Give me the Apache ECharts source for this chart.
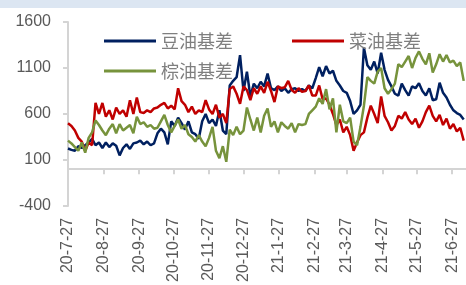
<!DOCTYPE html>
<html>
<head>
<meta charset="utf-8">
<script src="https://cdn.jsdelivr.net/npm/echarts@6/dist/echarts.min.js"></script>
<style>
html, body { margin: 0; padding: 0; background: #fff; }
#chart { width: 466px; height: 285px; }
</style>
</head>
<body>
<div id="chart"></div>
<script>
// 刻度标签（每月27日）
var tickLabels = ['20-7-27', '20-8-27', '20-9-27', '20-10-27', '20-11-27', '20-12-27',
    '21-1-27', '21-2-27', '21-3-27', '21-4-27', '21-5-27', '21-6-27'];

// 数据从 2020-07-27 起，每3天一个点
var startDate = '2020-07-27';
var stepDays = 3;

// 豆油基差
var soyBasis = [225, 210, 200, 250, 230, 260, 290, 330, 260, 290,
    230, 290, 240, 280, 255, 150, 230, 270, 220, 280,
    290, 310, 270, 300, 260, 280, 390, 440, 400, 270,
    520, 470, 560, 500, 430, 520, 400, 380, 330, 520,
    600, 500, 540, 470, 640, 420, 380, 910, 960, 1000,
    1240, 850, 1060, 790, 930, 880, 950, 900, 1040, 880,
    860, 900, 850, 880, 830, 870, 880, 850, 870, 850,
    910, 880, 990, 1110, 1010, 1120, 1040, 1070, 960, 910,
    850, 830, 740, 600, 640, 700, 1320, 1130, 1080, 1170,
    1040, 1265, 1080, 970, 900, 820, 800, 930, 860, 800,
    900, 880, 935, 850, 800, 880, 750, 760, 940, 830,
    780, 700, 640, 610, 590, 540];

// 菜油基差
var rapeBasis = [500, 470, 420, 340, 300, 200, 290, 260, 720, 600,
    720, 570, 640, 540, 670, 600, 640, 570, 750, 600,
    780, 620, 610, 640, 620, 660, 670, 700, 720, 660,
    690, 650, 880, 740, 700, 620, 680, 600, 640, 620,
    750, 650, 600, 700, 560, 600, 500, 870, 900, 820,
    710, 900, 860, 750, 880, 820, 900, 830, 950, 850,
    730, 900, 880, 890, 960, 860, 830, 880, 840, 850,
    910, 800, 800, 910, 760, 770, 700, 600, 480, 540,
    400, 460, 370, 200, 290, 370, 400, 560, 690, 600,
    500, 790, 580, 510, 420, 470, 580, 550, 620, 540,
    490, 550, 450, 520, 620, 690, 580, 520, 590, 480,
    550, 440, 490, 410, 450, 310];

// 棕油基差
var palmBasis = [310, 280, 240, 200, 290, 180, 340, 400, 530, 480,
    420, 370, 440, 490, 390, 490, 420, 450, 480, 390,
    570, 490, 510, 460, 480, 440, 450, 520, 590, 480,
    400, 470, 540, 440, 480, 380, 350, 300, 370, 300,
    250, 340, 460, 200, 120, 250, 80, 430, 370, 460,
    380, 420, 670, 540, 420, 560, 400, 580, 660, 460,
    520, 400, 510, 470, 440, 500, 400, 490, 480, 490,
    600, 640, 680, 770, 710, 870, 650, 770, 400, 700,
    520, 500, 560, 300, 260, 460, 690, 1000, 960, 930,
    1060, 1100, 880, 820, 870, 930, 1140, 1110, 1170, 1230,
    1100, 1210, 1280, 1200, 1140, 1260, 1050, 1140, 1250, 1170,
    1240, 1160, 1180, 1120, 1160, 960];

function parseLabel(s) {
    var p = s.split('-');
    return new Date(2000 + Number(p[0]), Number(p[1]) - 1, Number(p[2])).getTime();
}
function fmtDate(v) {
    var d = new Date(v);
    return (d.getFullYear() - 2000) + '-' + (d.getMonth() + 1) + '-' + d.getDate();
}

var tickValues = tickLabels.map(parseLabel);
var sp = startDate.split('-');
var t0 = new Date(Number(sp[0]), Number(sp[1]) - 1, Number(sp[2])).getTime();
var dates = [];
for (var i = 0; i < soyBasis.length; i++) {
    dates.push(t0 + i * stepDays * 86400000);
}
function pairs(vals) {
    var out = [];
    for (var k = 0; k < vals.length; k++) {
        out.push([dates[k], vals[k]]);
    }
    return out;
}

var xMin = t0;
var xMax = new Date(2021, 6, 9).getTime();

var chart = echarts.init(document.getElementById('chart'), null, { renderer: 'canvas' });
var legendText = { color: '#7f7f7f', fontSize: 18, fontFamily: 'Noto Sans CJK SC' };
function legendAt(name, left, top) {
    return {
        data: [name], left: left, top: top, padding: 0,
        icon: 'rect', itemWidth: 52, itemHeight: 3, itemGap: 0,
        textStyle: legendText
    };
}
var option = {
    animation: false,
    backgroundColor: '#ffffff',
    color: ['#002060', '#c00000', '#77933c'],
    graphic: [{
        type: 'rect',
        left: 0, top: 0,
        shape: { width: 466, height: 8 },
        style: { fill: '#dce6f2' },
        z: -1
    }],
    legend: [
        legendAt('豆油基差', 104, 32),
        legendAt('菜油基差', 292, 32),
        legendAt('棕油基差', 104, 62)
    ],
    grid: {
        left: 68,
        top: 22,
        width: 398,
        height: 192,
        containLabel: false
    },
    xAxis: [{
        type: 'value',
        position: 'bottom',
        min: xMin,
        max: xMax,
        axisLine: { show: false, onZero: false },
        axisTick: { show: false },
        splitLine: { show: false },
        axisLabel: {
            customValues: tickValues,
            rotate: 90,
            margin: 12,
            color: '#595959',
            fontSize: 16,
            fontFamily: 'Liberation Sans',
            formatter: fmtDate
        }
    }, {
        type: 'value',
        position: 'bottom',
        min: xMin,
        max: xMax,
        axisLine: { show: true, onZero: true, lineStyle: { color: '#d4d4d4', width: 2 } },
        axisTick: { show: true, customValues: tickValues, length: 5, lineStyle: { color: '#d4d4d4', width: 2 } },
        axisLabel: { show: false },
        splitLine: { show: false }
    }],
    yAxis: {
        type: 'value',
        min: -400,
        max: 1600,
        interval: 500,
        axisLine: { show: true, lineStyle: { color: '#d4d4d4', width: 2 } },
        axisTick: { show: true, length: 5, lineStyle: { color: '#d4d4d4', width: 2 } },
        splitLine: { show: false },
        axisLabel: {
            margin: 17,
            color: '#595959',
            fontSize: 16,
            fontFamily: 'Liberation Sans',
            formatter: function (v) { return String(v); }
        }
    },
    series: [{
        name: '豆油基差',
        type: 'line',
        symbol: 'none',
        xAxisIndex: 0,
        lineStyle: { width: 2.5 },
        data: pairs(soyBasis)
    }, {
        name: '菜油基差',
        type: 'line',
        symbol: 'none',
        xAxisIndex: 0,
        lineStyle: { width: 2.5 },
        data: pairs(rapeBasis)
    }, {
        name: '棕油基差',
        type: 'line',
        symbol: 'none',
        xAxisIndex: 0,
        lineStyle: { width: 2.5 },
        data: pairs(palmBasis)
    }]
};
chart.setOption(option);
</script>
</body>
</html>
